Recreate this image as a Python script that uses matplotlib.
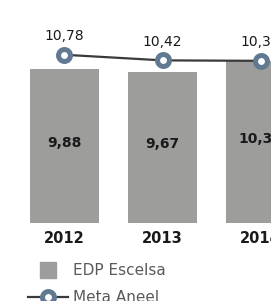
import matplotlib.pyplot as plt
from matplotlib.lines import Line2D

# Data
years = ["2012", "2013", "2014"]
edp_escelsa = [9.88, 9.67, 10.37]
meta_aneel = [10.78, 10.42, 10.39]

bar_color = "#9d9d9c"
marker_color = "#617a92"
line_color = "#3a3a3a"

def fmt(v):
    return f"{v:.2f}".replace(".", ",")

fig = plt.figure(figsize=(2.71, 3.01), dpi=100)
ax = fig.add_axes([0, 78.5 / 301, 1, 222.5 / 301])

x = list(range(len(years)))
ax.bar(x, edp_escelsa, width=0.704, color=bar_color, zorder=1)
ax.plot(x, meta_aneel, color=line_color, lw=1.6, marker="o", ms=8.6,
        mew=3.6, mfc="white", mec=marker_color, zorder=3)

for xi, v in zip(x, edp_escelsa):
    ax.text(xi, v * 0.493, fmt(v), ha="center", va="baseline",
            fontsize=10, fontweight="bold", color="#1a1a1a")
for xi, v in zip(x, meta_aneel):
    ax.annotate(fmt(v), (xi, v), xytext=(0, 10.5), textcoords="offset points",
                ha="center", va="baseline", fontsize=10, color="#1a1a1a")

ax.set_xlim(-0.658, 2.107)
ax.set_ylim(0, 14.3)
ax.set_xticks(x)
ax.set_xticklabels(years, fontsize=10.5, fontweight="bold", color="#1a1a1a")
ax.tick_params(axis="x", length=0, pad=6)
ax.set_yticks([])
for s in ax.spines.values():
    s.set_visible(False)

handles = [
    Line2D([], [], linestyle="none", marker="s", ms=11.5, color=bar_color),
    Line2D([], [], color=line_color, lw=1.6, marker="o", ms=8.6, mew=3.6,
           mfc="white", mec=marker_color),
]
fig.legend(handles, ["EDP Escelsa", "Meta Aneel"], loc="upper left",
           bbox_to_anchor=(28 / 271, (301 - 263) / 301), frameon=False,
           fontsize=11, labelcolor="#5a5a5a", handlelength=2.6,
           handletextpad=0.33, labelspacing=0.78, borderpad=0,
           borderaxespad=0)

fig.savefig("out.png", dpi=100)
